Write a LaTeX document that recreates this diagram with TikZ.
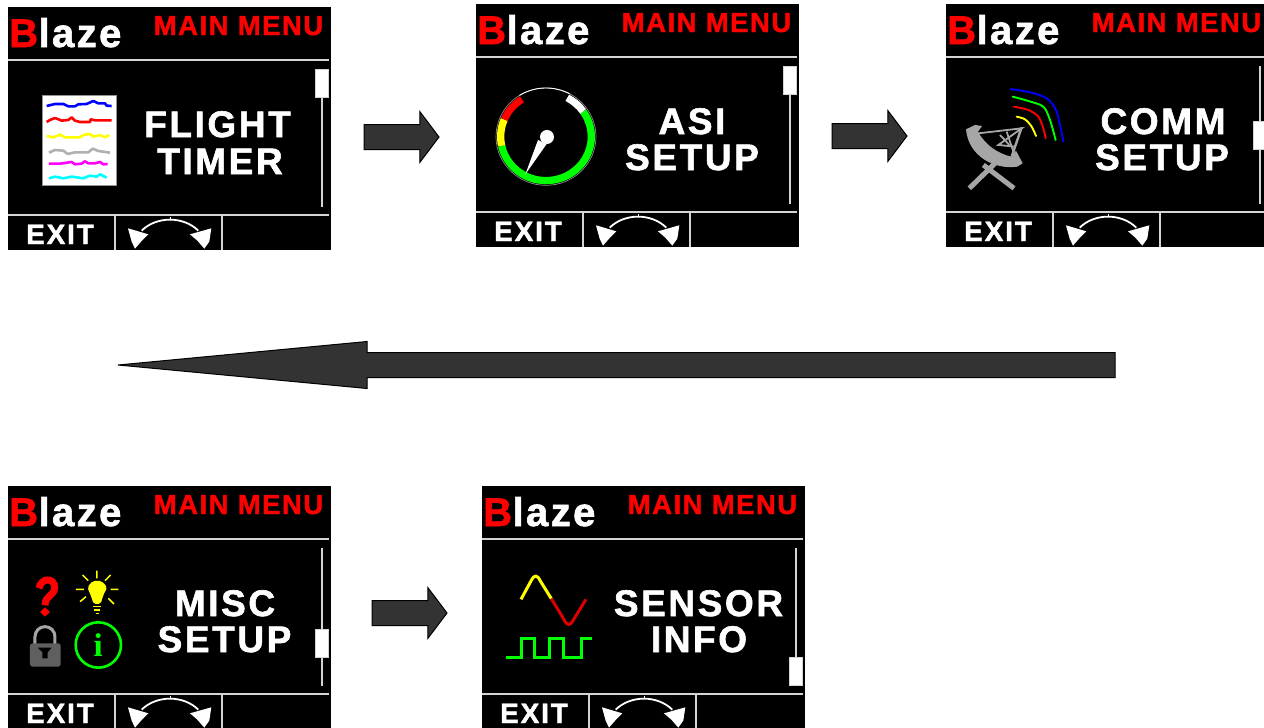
\documentclass[tikz,border=0pt]{standalone}
\usepackage{fontspec}
\usetikzlibrary{shapes.arrows}
\newfontfamily\lcdBig[LetterSpace=7,FakeBold=1.6]{Liberation Sans Bold}
\newfontfamily\lcdMid[LetterSpace=5.5,FakeBold=1.4]{Liberation Sans Bold}
\newfontfamily\lcdExit[LetterSpace=6.5,FakeBold=1.6]{Liberation Sans Bold}
\newfontfamily\lcdLogo[LetterSpace=6,FakeBold=1.6]{Liberation Sans Bold}
\newfontfamily\lcdSerif{Liberation Serif}
\definecolor{lcdline}{HTML}{D4D4D4}
\definecolor{dishgray}{HTML}{A6A6A6}
\definecolor{lockgray}{HTML}{5F5F5F}
\definecolor{arrowfill}{HTML}{333333}
\definecolor{lcdred}{HTML}{FF0000}
\definecolor{lcdgreen}{HTML}{00FF00}
\definecolor{lcdblue}{HTML}{0000FF}
\definecolor{lcdyellow}{HTML}{FFFF00}
\definecolor{lcdmagenta}{HTML}{FF00FF}
\definecolor{lcdcyan}{HTML}{00FFFF}
\definecolor{lcdgray}{HTML}{B0B0B0}
\definecolor{lcddarkred}{HTML}{DD0000}
\definecolor{ringgray}{HTML}{8C8C8C}
\tikzset{
  lcdscreen/.style={rectangle,fill=black,draw=none,inner sep=0,outer sep=0,anchor=north west},
  rule/.style={lcdline,line width=1.8pt},
  lcdlabel/.style={inner sep=0,text=white,anchor=base,font=\lcdBig\fontsize{37}{37}\selectfont},
  title/.style={inner sep=0,text=lcdred,anchor=base,font=\lcdMid\fontsize{27.5}{28}\selectfont},
  exitlabel/.style={inner sep=0,text=white,anchor=base,font=\lcdExit\fontsize{28}{28}\selectfont},
  logo/.style={inner sep=0,text=lcdred,anchor=base west,font=\lcdLogo\fontsize{40}{40}\selectfont},
  blockarrow/.style={shape=single arrow,draw=black,fill=arrowfill,line width=1pt,inner sep=0,outer sep=0,
    single arrow head indent=0pt,text width=0pt,text height=24pt,text depth=0pt},
  graphline/.style={line width=2.6pt,line join=round},
  wave/.style={line width=1.9pt,line join=round,line cap=round},
}
% name, x, y, w, h, top of scrollbar thumb
\newcommand{\lcdpanel}[6]{%
  \node[lcdscreen,minimum width=#4pt,minimum height=#5pt] (#1) at (#2,#3) {};
  \begin{scope}[shift={(#2,#3)}]
    \clip (0,0) rectangle (#4,#5);
    \node[logo] (#1-logo) at (1,40) {B\kern0.5pt\textcolor{white}{laze}};
    \node[title] (#1-title) at (230.5,28) {MAIN MENU};
    \draw[rule] (0,53) -- (321,53);
    \draw[rule] (0,208) -- (321,208);
    \draw[rule] (107,208) -- (107,243);
    \draw[rule] (214,208) -- (214,243);
    \draw[rule] (314,62) -- (314,200);
    \fill[white,draw=lcdline,line width=.6pt] (307.3,#6) rectangle (320.7,#6+28);
    \node[exitlabel] (#1-exit) at (52,237) {EXIT};
    \begin{scope}[shift={(-8,-7)},x=0.3333pt,y=-0.3333pt]
      \draw[white,line width=1.8pt] (425,692) .. controls (470,648) and (550,648) .. (595,692);
      \draw[white,line width=1.2pt] (511,652) -- (511,660);
      \fill[white] (384,685) -- (445,703) -- (426,722) -- (405,746) -- (395,725) -- cycle;
      \fill[white] (634,685) -- (570,703) -- (592,722) -- (613,746) -- (628,725) -- cycle;
    \end{scope}
  \end{scope}
}
\newcommand{\screenlabel}[4]{\node[lcdlabel] (#1) at (#2,#3) {#4};}
\begin{document}
\begin{tikzpicture}[x=1pt,y=-1pt]
\useasboundingbox (0,0) rectangle (1264,728);
\fill[white] (0,0) rectangle (1264,728);

\lcdpanel{flight}{8}{7}{323}{243}{62}
\lcdpanel{asi}{476}{4}{323}{243}{62}
\lcdpanel{comm}{946}{4}{318}{243}{117}
\lcdpanel{misc}{8}{486}{323}{242}{143}
\lcdpanel{sensor}{482}{486}{323}{242}{171}

\screenlabel{flight-a}{217.5}{137}{FLIGHT}
\screenlabel{flight-b}{220}{174}{TIMER}
\screenlabel{asi-a}{692}{134}{ASI}
\screenlabel{asi-b}{692}{170}{SETUP}
\screenlabel{comm-a}{1163}{134}{COMM}
\screenlabel{comm-b}{1162}{170}{SETUP}
\screenlabel{misc-a}{225}{616}{MISC}
\screenlabel{misc-b}{224.5}{652}{SETUP}
\screenlabel{sensor-a}{698.5}{616}{SENSOR}
\screenlabel{sensor-b}{699}{652}{INFO}

% flight timer icon
\begin{scope}[x=0.3333pt,y=-0.3333pt]
  \fill[white,draw=lcdline!70!black,line width=.8pt] (127,287) rectangle (349,557);
  \draw[graphline,lcdblue] (140,318)--(165,312)--(190,312)--(205,319)--(225,319)--(235,313)--(260,312)--(280,303)--(295,310)--(315,310)--(320,317)--(335,318);
  \draw[graphline,lcdred] (140,366)--(150,360)--(165,354)--(185,362)--(205,360)--(215,352)--(225,362)--(240,366)--(270,366)--(272,358)--(285,361)--(335,361);
  \draw[graphline,lcdyellow] (140,408)--(160,412)--(180,404)--(195,412)--(240,412)--(250,405)--(270,402)--(280,410)--(300,405)--(315,412)--(328,405);
  \draw[graphline,lcdgray] (147,458)--(165,450)--(190,452)--(203,462)--(225,457)--(265,457)--(278,446)--(295,453)--(330,458);
  \draw[graphline,lcdmagenta] (147,491)--(180,491)--(215,486)--(225,493)--(245,491)--(255,484)--(265,490)--(285,490)--(300,486)--(310,493)--(323,492);
  \draw[graphline,lcdcyan] (147,535)--(165,530)--(190,535)--(215,530)--(250,535)--(270,527)--(290,530)--(300,523)--(320,533);
\end{scope}

% airspeed icon
\begin{scope}[shift={(470,0)},x=0.3333pt,y=-0.3333pt]
  \draw[ringgray,line width=.7pt] (228,410) ellipse [x radius=150,y radius=146];
  \draw[white,line width=.9pt] (228,410) ++(-62:150 and 146) arc [start angle=-62,end angle=-122,x radius=150,y radius=146];
  \draw[lcdgreen,line width=7.3pt] (228,410) ++(-35:136 and 132) arc [start angle=-35,end angle=168,x radius=136,y radius=132];
  \draw[lcdyellow,line width=7.3pt] (228,410) ++(168:136 and 132) arc [start angle=168,end angle=203,x radius=136,y radius=132];
  \draw[lcdred,line width=7.3pt] (228,410) ++(203:136 and 132) arc [start angle=203,end angle=238,x radius=136,y radius=132];
  \draw[white,line width=7.3pt] (228,410) ++(-62:136 and 132) arc [start angle=-62,end angle=-35,x radius=136,y radius=132];
  \fill[white] (231,411) circle [radius=21];
  \fill[white] (204,420) -- (230,432) -- (166,523) -- cycle;
\end{scope}

% comm icon
\begin{scope}[shift={(940,0)},x=0.3333pt,y=-0.3333pt]
  \fill[dishgray] (78,388) -- (105,375) -- (126,378) -- (114,395) .. controls (135,435) and (175,462) .. (215,470) -- (228,452) -- (248,490) -- (232,500) .. controls (165,510) and (85,470) .. (78,388) -- cycle;
  \draw[dishgray,line width=5pt] (88,565) -- (165,490);
  \draw[dishgray,line width=5pt] (130,495) -- (222,565);
  \draw[dishgray,line width=1.8pt] (115,400) -- (245,385) -- (175,435) -- (225,440);
  \draw[dishgray,line width=1.8pt] (200,395) -- (225,470);
  \draw[dishgray,line width=1.8pt] (180,405) -- (208,435);
  \draw[dishgray,line width=2.4pt] (245,382) -- (215,470);
  \draw[wave,lcdyellow] plot[smooth] coordinates {(230,350) (255,358) (275,380) (288,408)};
  \draw[wave,lcdred] plot[smooth] coordinates {(222,320) (265,330) (295,350) (310,385) (317,415)};
  \draw[wave,lcdgreen] plot[smooth] coordinates {(218,290) (265,303) (310,320) (330,360) (347,420)};
  \draw[wave,lcdblue] plot[smooth] coordinates {(212,267) (270,277) (320,295) (350,335) (370,425)};
\end{scope}

% misc icons
\begin{scope}[shift={(0,480)},x=0.3333pt,y=-0.3333pt]
  \draw[lcdred,line width=7pt] (117,325) .. controls (123,292) and (164,292) .. (164,322) .. controls (164,348) and (135,345) .. (135,376);
  \fill[lcdred] (135,382) -- (150,396) -- (135,410) -- (120,396) -- cycle;
  \fill[lcdyellow,rounded corners=2pt] (262,322) -- (278,303) -- (305,303) -- (322,322) -- (310,345) -- (302,372) -- (281,372) -- (272,345) -- cycle;
  \draw[lcdyellow,line width=1.5pt] (280,379)--(303,379) (283,390)--(300,390) (287,400)--(296,400);
  \draw[lcdyellow,line width=1.5pt] (228,328)--(252,328) (332,328)--(355,328) (291,272)--(291,295) (248,285)--(265,302) (332,285)--(315,302) (240,365)--(258,350) (342,372)--(325,355);
  \draw[dishgray,line width=3pt] (105,495) -- (105,470) arc [start angle=180,end angle=360,radius=30] -- (165,495);
  \fill[lockgray,rounded corners=2.5pt] (90,490) rectangle (182,560);
  \fill[black] (113,503) -- (155,503) -- (143,517) -- (143,535) -- (127,535) -- (127,517) -- cycle;
  \draw[lcdgreen,line width=2.6pt] (295,495) circle [radius=68];
  \node[inner sep=0,text=lcdgreen,font=\lcdSerif\bfseries\fontsize{33}{33}\selectfont,anchor=base] (misc-info) at (295,530) {i};
\end{scope}

% sensor icon
\begin{scope}[shift={(476,480)},x=0.3333pt,y=-0.3333pt]
  \draw[lcdyellow,line width=3pt,line join=round] (135,358) -- (165,303) .. controls (175,283) and (183,283) .. (193,303) -- (226,356);
  \draw[lcddarkred,line width=3pt,line join=round] (226,356) -- (262,415) .. controls (274,440) and (282,440) .. (295,415) -- (330,358);
  \draw[lcdgreen,line width=3pt] (90,532)--(135,532)--(135,475)--(177,475)--(177,532)--(222,532)--(222,475)--(262,475)--(262,532)--(318,532)--(318,475)--(348,475);
\end{scope}

% block arrows
\tikzset{smallarrow/.style={blockarrow,minimum height=75pt,minimum width=50pt,single arrow head extend=13pt,single arrow tip angle=106}}
\node[smallarrow,anchor=tip] (step-a) at (439,137) {};
\node[smallarrow,anchor=tip] (step-b) at (907,136) {};
\node[blockarrow,minimum height=997pt,minimum width=47pt,single arrow head extend=11pt,single arrow tip angle=10.78,shape border rotate=180,anchor=tip] (step-c) at (118,365) {};
\node[smallarrow,anchor=tip] (step-d) at (447,613) {};
\end{tikzpicture}
\end{document}
